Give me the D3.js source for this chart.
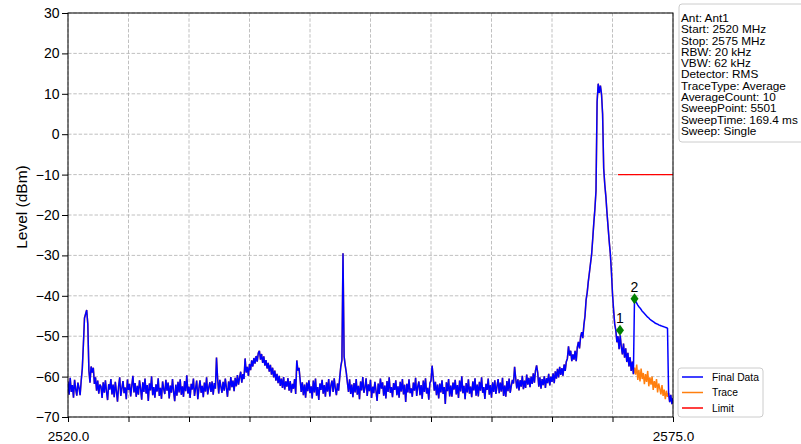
<!DOCTYPE html>
<html>
<head>
<meta charset="utf-8">
<script src="https://d3js.org/d3.v7.min.js"></script>
<style>
  body { margin: 0; background: #fff; }
  svg { display: block; font-family: "Liberation Sans", Arial, sans-serif; }
</style>
</head>
<body>
<svg id="chart" width="801" height="444"></svg>
<script>
// Sweep grid: 2520 MHz to 2575 MHz, one value every 0.1 MHz
const startFreq = 2520, stopFreq = 2575, freqStep = 0.1;

// Trace levels (dBm), one row per MHz
const traceLevels = [
  -61.2, -64.5, -60.3, -63.8, -62.1, -65.2, -60.8, -63.1, -64.7, -61.5, // 2520
  -62.8, -64.6, -61.0, -58.0, -52.0, -45.5, -44.5, -43.5, -47.0, -58.5, // 2521
  -61.5, -57.5, -59.0, -57.8, -61.8, -60.2, -63.5, -61.0, -64.2, -62.0, // 2522
  -62.5, -65.3, -61.4, -64.0, -60.9, -63.7, -65.8, -61.9, -63.2, -60.6, // 2523
  -64.4, -62.0, -65.1, -61.3, -63.6, -66.2, -62.4, -60.2, -64.8, -62.9, // 2524
  -61.1, -64.1, -62.7, -65.6, -60.7, -63.3, -61.8, -64.9, -62.2, -59.8, // 2525
  -63.9, -61.6, -65.0, -62.3, -64.5, -60.9, -63.0, -65.7, -61.4, -63.8, // 2526
  -60.5, -64.2, -62.1, -66.0, -61.7, -63.4, -59.9, -64.6, -62.6, -65.2, // 2527
  -61.9, -63.7, -60.4, -64.8, -62.8, -65.5, -61.2, -63.1, -64.3, -60.8, // 2528
  -63.5, -61.5, -65.4, -62.2, -64.0, -60.6, -63.8, -66.1, -62.0, -64.7, // 2529
  -61.3, -63.9, -60.7, -64.5, -62.4, -65.0, -61.1, -63.6, -59.7, -64.2, // 2530
  -62.5, -65.3, -61.8, -63.2, -60.5, -64.8, -62.9, -61.0, -65.6, -63.0, // 2531
  -60.9, -64.0, -62.3, -65.1, -61.5, -63.7, -60.2, -64.4, -62.7, -61.4, // 2532
  -63.8, -61.2, -64.5, -61.6, -63.0, -55.3, -60.4, -64.2, -60.8, -62.5, // 2533
  -64.0, -61.3, -63.5, -60.5, -62.8, -65.0, -61.2, -63.4, -60.1, -62.6, // 2534
  -61.0, -63.6, -60.3, -62.4, -59.6, -62.0, -60.2, -58.8, -61.5, -59.4, // 2535
  -60.6, -55.5, -59.0, -57.6, -59.8, -56.9, -58.4, -56.0, -57.5, -55.4, // 2536
  -56.8, -54.9, -56.3, -54.2, -53.6, -55.8, -54.4, -56.6, -55.0, -57.3, // 2537
  -55.9, -58.0, -56.6, -58.8, -57.1, -59.5, -57.8, -60.2, -58.5, -61.0, // 2538
  -59.3, -61.6, -59.8, -62.3, -60.5, -62.8, -60.1, -63.2, -61.2, -62.5, // 2539
  -60.4, -63.5, -61.1, -64.0, -61.8, -63.0, -60.6, -64.3, -56.0, -58.5, // 2540
  -57.8, -60.7, -63.8, -61.4, -64.6, -62.0, -65.2, -61.5, -63.6, -60.9, // 2541
  -64.1, -62.4, -65.4, -61.0, -63.9, -60.5, -64.7, -62.6, -65.8, -61.7, // 2542
  -63.3, -60.8, -64.2, -62.1, -65.0, -61.4, -63.7, -60.6, -64.9, -62.2, // 2543
  -61.0, -63.8, -60.4, -62.9, -64.6, -61.7, -63.5, -60.3, -57.5, -56.0, // 2544
  -29.5, -55.0, -57.2, -59.0, -61.5, -63.8, -60.7, -64.3, -62.0, -65.1, // 2545
  -61.6, -63.9, -60.6, -64.5, -62.3, -65.6, -61.2, -63.4, -60.1, -64.0, // 2546
  -62.7, -60.4, -64.8, -61.9, -63.6, -60.8, -65.3, -62.5, -64.1, -61.3, // 2547
  -63.5, -66.0, -61.7, -64.3, -60.5, -63.0, -61.4, -64.7, -62.2, -65.4, // 2548
  -61.1, -63.8, -60.2, -64.0, -62.6, -65.1, -61.6, -63.3, -60.9, -64.6, // 2549
  -62.4, -65.2, -61.3, -63.7, -60.6, -64.4, -62.0, -66.3, -61.8, -63.9, // 2550
  -60.7, -64.1, -62.9, -65.0, -61.5, -63.5, -60.3, -64.8, -62.4, -61.2, // 2551
  -64.6, -62.1, -65.5, -61.0, -63.8, -60.4, -64.2, -62.8, -65.7, -61.6, // 2552
  -61.0, -57.3, -60.2, -63.5, -61.3, -64.6, -62.0, -65.4, -61.7, -63.9, // 2553
  -60.9, -64.3, -62.6, -66.8, -61.4, -63.6, -60.6, -64.9, -62.2, -65.0, // 2554
  -61.5, -63.2, -60.8, -64.4, -62.1, -65.3, -61.0, -63.7, -59.9, -64.1, // 2555
  -62.3, -65.6, -61.6, -63.9, -60.7, -64.2, -62.5, -65.1, -61.2, -63.4, // 2556
  -60.4, -64.7, -62.0, -64.9, -61.3, -63.5, -60.2, -64.0, -62.6, -65.5, // 2557
  -61.8, -63.3, -60.5, -64.5, -62.1, -65.2, -61.4, -63.8, -60.9, -64.3, // 2558
  -62.4, -60.6, -64.1, -61.5, -63.7, -60.3, -64.8, -62.2, -65.0, -61.1, // 2559
  -63.6, -60.5, -64.0, -62.3, -60.8, -61.7, -57.6, -60.4, -62.9, -60.7, // 2560
  -63.4, -60.9, -62.5, -59.8, -63.1, -61.0, -62.8, -59.5, -62.0, -60.3, // 2561
  -62.6, -60.0, -61.8, -59.2, -61.5, -58.5, -57.2, -59.0, -62.5, -60.2, // 2562
  -63.0, -60.6, -62.1, -59.9, -62.8, -60.4, -61.6, -59.3, -62.2, -60.0, // 2563
  -61.3, -59.2, -61.6, -58.7, -60.5, -58.1, -60.2, -57.6, -59.6, -57.9, // 2564
  -59.8, -57.0, -58.6, -56.3, -55.5, -52.5, -54.8, -53.6, -56.2, -54.5, // 2565
  -55.8, -53.6, -56.2, -52.8, -51.4, -53.0, -50.2, -49.0, -50.5, -47.2, // 2566
  -45.0, -41.0, -39.2, -36.5, -34.3, -32.0, -29.8, -26.0, -22.0, -18.5, // 2567
  -14.0,   8.0,  12.5,  10.2,  12.0,  10.0,   5.0,  -8.5, -12.5, -15.5, // 2568
  -19.5, -23.0, -26.5, -29.5, -34.0, -39.5, -43.5, -47.0, -48.5, -51.5, // 2569
  -50.0, -53.2, -49.8, -52.6, -54.5, -51.8, -55.3, -53.0, -56.4, -54.1, // 2570
  -57.5, -55.2, -58.6, -56.3, -59.4, -57.8, -59.5, -57.0, -60.8, -58.3, // 2571
  -61.2, -58.0, -60.6, -59.1, -61.9, -59.4, -61.3, -58.6, -62.4, -60.2, // 2572
  -62.0, -60.0, -63.3, -61.1, -62.8, -60.6, -63.9, -61.7, -63.0, -64.4, // 2573
  -62.1, -64.8, -63.2, -65.6, -63.5, -65.0, -64.1, -66.3, -64.5, -66.8, // 2574
  -65.3                                                                 // 2575
];

// Final Data differs from the trace only on 2571.5 .. 2574.5 MHz
const finalStart = 2571.5;
const finalLevels = [
  -40.7, -41.3, -41.8, -42.3, -42.7,
  -43.0, -43.4, -43.8, -44.1, -44.4, -44.7, -45.0, -45.3, -45.5, -45.8,
  -46.0, -46.2, -46.4, -46.6, -46.8, -46.9, -47.0, -47.2, -47.3, -47.4,
  -47.5, -47.6, -47.7, -47.8, -47.9, -48.0
];

// Limit line
const limitFreqs = [2570.0, 2575.0];
const limitLevels = [-10, -10];

// Markers
const markerNames = ["1", "2"];
const markerFreqs = [2570.18, 2571.5];
const markerLevels = [-48.5, -40.7];

// Axes
const xTicks = [2520, 2525.5, 2531, 2536.5, 2542, 2547.5, 2553, 2558.5, 2564, 2569.5, 2575];
const yTicks = [-70, -60, -50, -40, -30, -20, -10, 0, 10, 20, 30];

const legendNames = ["Final Data", "Trace", "Limit"];
const legendColors = ["#0000ff", "#ff7f0e", "#ff0000"];

const infoLines = [
  "Ant: Ant1", "Start: 2520 MHz", "Stop: 2575 MHz", "RBW: 20 kHz", "VBW: 62 kHz",
  "Detector: RMS", "TraceType: Average", "AverageCount: 10", "SweepPoint: 5501",
  "SweepTime: 169.4 ms", "Sweep: Single"
];

// Plot area
const plotL = 68, plotR = 673, plotT = 13, plotB = 417;

const svg = d3.select("#chart");

const x = d3.scaleLinear().domain([startFreq, stopFreq]).range([plotL, plotR]);
const y = d3.scaleLinear().domain([-70, 30]).range([plotB, plotT]);

// build point lists
const tracePts = traceLevels.map((v, i) => [startFreq + i * freqStep, v]);
const finalPts = tracePts.map(([f, v]) => {
  const k = Math.round((f - finalStart) / freqStep);
  return [f, (k >= 0 && k < finalLevels.length) ? finalLevels[k] : v];
});

// grid
const grid = svg.append("g").attr("stroke", "#b0b0b0").attr("stroke-width", 0.8)
  .attr("stroke-dasharray", "3.5,1.8");
grid.selectAll(".gx").data(xTicks).join("line")
  .attr("x1", d => x(d)).attr("x2", d => x(d)).attr("y1", plotT).attr("y2", plotB);
grid.selectAll(".gy").data(yTicks).join("line")
  .attr("x1", plotL).attr("x2", plotR).attr("y1", d => y(d)).attr("y2", d => y(d));

svg.append("clipPath").attr("id", "clip")
  .append("rect").attr("x", plotL).attr("y", plotT).attr("width", plotR - plotL).attr("height", plotB - plotT);

const line = d3.line().x(d => x(d[0])).y(d => y(d[1]));
const plot = svg.append("g").attr("clip-path", "url(#clip)");

plot.append("path").datum(tracePts).attr("d", line)
  .attr("fill", "none").attr("stroke", legendColors[1]).attr("stroke-width", 1.5)
  .attr("stroke-linejoin", "bevel");
plot.append("path").datum(finalPts).attr("d", line)
  .attr("fill", "none").attr("stroke", legendColors[0]).attr("stroke-width", 1.5)
  .attr("stroke-linejoin", "bevel");
plot.append("path").datum(limitFreqs.map((f, i) => [f, limitLevels[i]])).attr("d", line)
  .attr("fill", "none").attr("stroke", legendColors[2]).attr("stroke-width", 1.2);

// markers
markerFreqs.forEach((f, i) => {
  const mx = x(f), my = y(markerLevels[i]);
  svg.append("path")
    .attr("d", `M${mx},${my - 5.5} L${mx + 4},${my} L${mx},${my + 5.5} L${mx - 4},${my} Z`)
    .attr("fill", "#008000");
  svg.append("text").attr("x", mx).attr("y", my - 7)
    .attr("text-anchor", "middle").attr("font-size", 14).attr("fill", "#000")
    .text(markerNames[i]);
});

// axes
const xAxis = svg.append("g").attr("transform", `translate(0,${plotB})`)
  .call(d3.axisBottom(x).tickValues(xTicks).tickSize(5).tickPadding(9)
    .tickFormat((d, i) => (i === 0 || i === xTicks.length - 1) ? d.toFixed(1) : ""));
xAxis.select(".domain").remove();
xAxis.selectAll("text").attr("font-size", 13.5).attr("fill", "#000").attr("font-family", null);

const yAxis = svg.append("g").attr("transform", `translate(${plotL},0)`)
  .call(d3.axisLeft(y).tickValues(yTicks).tickSize(6).tickPadding(2.5));
yAxis.select(".domain").remove();
yAxis.selectAll("text").attr("font-size", 14).attr("fill", "#000").attr("font-family", null);

svg.append("rect").attr("x", plotL).attr("y", plotT).attr("width", plotR - plotL).attr("height", plotB - plotT)
  .attr("fill", "none").attr("stroke", "#000").attr("stroke-width", 1);

svg.append("text")
  .attr("transform", "translate(27,207) rotate(-90)")
  .attr("text-anchor", "middle").attr("font-size", 15.5).text("Level (dBm)");

// info box: tight line spacing, so the text is drawn a bit smaller and widened
svg.append("rect").attr("x", 679).attr("y", 4).attr("width", 140).attr("height", 138)
  .attr("rx", 3).attr("fill", "#fff").attr("stroke", "#cccccc");
svg.append("g").attr("transform", "translate(681,0) scale(1.18,1)")
  .selectAll("text").data(infoLines).join("text")
  .attr("x", 0).attr("y", (d, i) => 22 + i * 11.28)
  .attr("font-size", 10).attr("fill", "#000").text(d => d);

// legend
svg.append("rect").attr("x", 678).attr("y", 368).attr("width", 85).attr("height", 49)
  .attr("rx", 3).attr("fill", "#fff").attr("stroke", "#cccccc");
const lg = svg.append("g").selectAll("g").data(legendNames).join("g")
  .attr("transform", (d, i) => `translate(682,${377 + i * 15.5})`);
lg.append("line").attr("x1", 0).attr("x2", 21)
  .attr("stroke", (d, i) => legendColors[i]).attr("stroke-width", 1.5);
lg.append("text").attr("x", 30).attr("y", 3.6).attr("font-size", 10.3).text(d => d);
</script>
</body>
</html>
